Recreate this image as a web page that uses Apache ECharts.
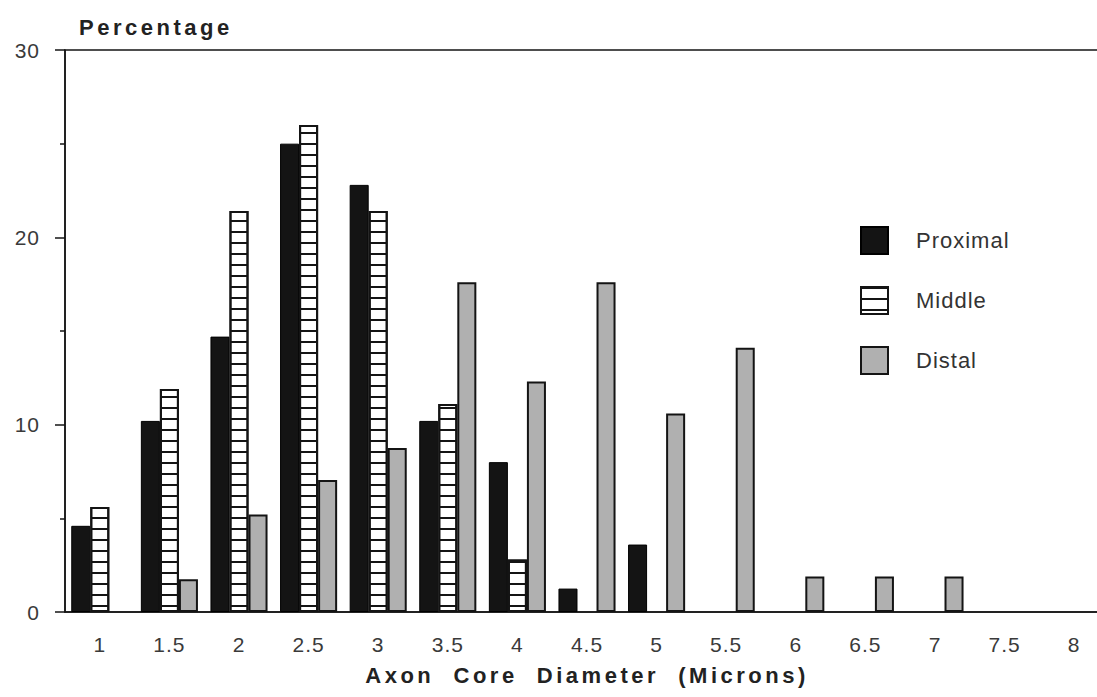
<!DOCTYPE html>
<html>
<head>
<meta charset="utf-8">
<script src="https://cdn.jsdelivr.net/npm/echarts@6/dist/echarts.min.js"></script>
<style>
html,body{margin:0;padding:0;background:#fff;overflow:hidden;width:1097px;height:697px}
#c{width:1115px;height:697px}
#c text{letter-spacing:1px}
#c text[style*="bold"]{letter-spacing:3.5px}
</style>
</head>
<body>
<div id="c"></div>
<script>
// ---- data ----
const categories = ['1','1.5','2','2.5','3','3.5','4','4.5','5','5.5','6','6.5','7','7.5','8'];
const proximal = [4.6, 10.2, 14.7, 25.0, 22.8, 10.2, 8.0, 1.25, 3.6, null, null, null, null, null, null];
const middle   = [5.6, 11.9, 21.4, 26.0, 21.4, 11.1, 2.8, null, null, null, null, null, null, null, null];
const distal   = [null, 1.75, 5.2, 7.05, 8.75, 17.6, 12.3, 17.6, 10.6, 14.1, 1.9, 1.9, 1.9, null, null];
const seriesNames = ['Proximal', 'Middle', 'Distal'];
const yAxisName = 'Percentage';
const xAxisName = 'Axon  Core  Diameter  (Microns)';

const font = "'Liberation Sans', Arial, Helvetica, sans-serif";
const ink = '#141414';
const chart = echarts.init(document.getElementById('c'), null, {renderer: 'svg'});

chart.setOption({
  animation: false,
  textStyle: {fontFamily: font},
  grid: {left: 65, right: 6, top: 50, bottom: 85, show: true, borderColor: ink, borderWidth: 1.5},
  legend: {
    orient: 'vertical', left: 855, top: 221, itemWidth: 27, itemHeight: 27, itemGap: 31,
    icon: 'rect', selectedMode: false, data: seriesNames,
    textStyle: {fontSize: 22, color: '#333', padding: [0, 0, 0, 23]}
  },
  xAxis: [
    {
      type: 'category', data: categories, position: 'bottom',
      axisLine: {lineStyle: {color: ink, width: 1.5}},
      axisTick: {alignWithLabel: true, interval: 0, length: 10, lineStyle: {color: ink, width: 1.5}},
      axisLabel: {interval: 0, fontSize: 21, color: '#3a3a3a', margin: 22},
      name: xAxisName, nameLocation: 'middle', nameGap: 52,
      nameTextStyle: {fontSize: 22, fontWeight: 'bold', color: '#222'}
    },
    {
      type: 'category', data: categories, position: 'bottom',
      axisLine: {show: false},
      axisTick: {alignWithLabel: false, interval: 0, length: 5, lineStyle: {color: ink, width: 1.5}},
      axisLabel: {show: false}
    }
  ],
  yAxis: {
    type: 'value', min: 0, max: 30, interval: 10,
    splitLine: {show: false},
    axisLine: {show: true, lineStyle: {color: ink, width: 1.5}},
    axisTick: {show: true, length: 10, lineStyle: {color: ink, width: 1.5}},
    minorTick: {show: true, splitNumber: 2, length: 5, lineStyle: {color: ink, width: 1.5}},
    axisLabel: {fontSize: 21, color: '#3a3a3a', margin: 25},
    name: yAxisName, nameLocation: 'end', nameGap: 12,
    nameTextStyle: {fontSize: 22, fontWeight: 'bold', color: '#222', align: 'left', padding: [0, 0, 0, 14]}
  },
  series: [
    {
      name: seriesNames[0], type: 'bar', data: proximal, barGap: '0%', barCategoryGap: '18%',
      emphasis: {disabled: true},
      itemStyle: {color: ink, borderColor: '#000', borderWidth: 1}
    },
    {
      name: seriesNames[1], type: 'bar', data: middle,
      emphasis: {disabled: true},
      itemStyle: {
        color: '#fff', borderColor: ink, borderWidth: 2,
        decal: {symbol: 'rect', symbolSize: 1, dashArrayX: [5, 0], dashArrayY: [2, 8.2], rotation: 0, color: ink}
      }
    },
    {
      name: seriesNames[2], type: 'bar', data: distal,
      emphasis: {disabled: true},
      itemStyle: {color: '#b0b0b0', borderColor: ink, borderWidth: 2}
    }
  ]
});
</script>
</body>
</html>
